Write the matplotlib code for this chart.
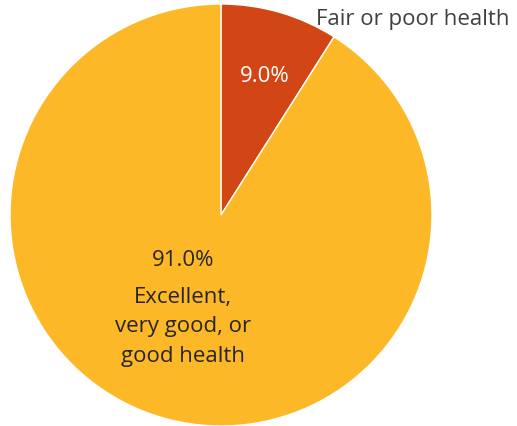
import matplotlib
matplotlib.use("Agg")
import matplotlib.pyplot as plt

categories = ["Fair or poor health", "Excellent,\nvery good, or\ngood health"]
values = [9.0, 91.0]
colors = ["#D24615", "#FDB827"]

plt.rcParams['font.family'] = ['Open Sans', 'DejaVu Sans']

W, H = 517, 427
fig = plt.figure(figsize=(W / 100, H / 100), dpi=100)
cx, cy, r = 221, 216, 211
ax = fig.add_axes([(cx - r) / W, 1 - (cy + r) / H, 2 * r / W, 2 * r / H])
wedges, _ = ax.pie(values, colors=colors, startangle=90, counterclock=False,
                   wedgeprops=dict(edgecolor="white", linewidth=1.0), radius=1)
ax.set_xlim(-1, 1)
ax.set_ylim(-1, 1)
ax.set_aspect('auto')
ax.axis('off')

def px(x, y):
    return ((x - cx) / r, (cy - y) / r)

ax.text(*px(265, 77), f"{values[0]:.1f}%", color="white", fontsize=16,
        ha="center", va="center")
fig.text(413 / W, 1 - 19 / H, categories[0], color="#404040", fontsize=16,
         ha="center", va="center")
ax.text(*px(183, 261), f"{values[1]:.1f}%", color="#262626",
        fontsize=16, ha="center", va="center")
ax.text(*px(183, 327), categories[1], color="#262626",
        fontsize=16, ha="center", va="center", linespacing=1.55)

fig.savefig("out.png", dpi=100)
